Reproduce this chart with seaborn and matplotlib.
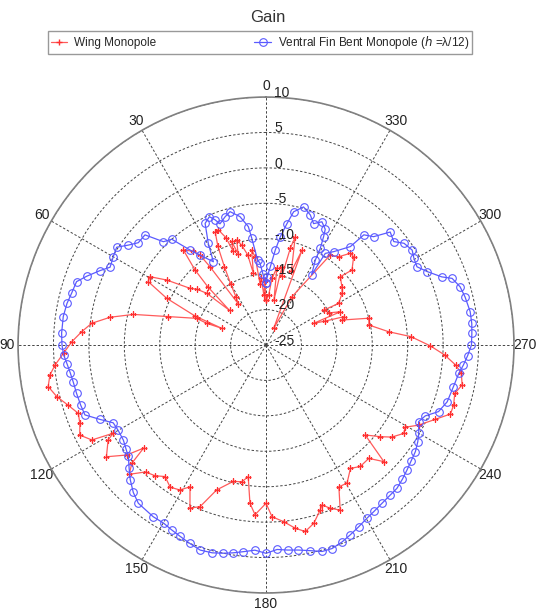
import numpy as np
import pandas as pd
import seaborn as sns
import matplotlib.pyplot as plt

# angle [deg] / gain [dB], in drawing order
wing_angle = [
    0, 1, 2.5, 4, 5.6, 7, 8.6, 10, 11.5, 13.7, 15.6, 17, 18.4, 19.3, 20.5, 22.5,
    24.2, 26, 28, 30, 32, 34, 35.6, 36.3, 38, 41, 43.4, 45, 46.5, 48.9, 51, 53.3,
    56.8, 59.5, 61.7, 64.8, 67.8, 69.3, 69.9, 69, 73.8, 77, 79.9, 82.9, 85.9, 89,
    92.3, 95.4, 97.9, 100.8, 103.9, 106.9, 110, 112.8, 115.8, 118.6, 120, 121, 125,
    128.3, 130.1, 131.4, 133.4, 136.5, 139.7, 142.5, 146, 149.3, 151.8, 155, 157.8,
    161.2, 166.5, 170, 172.3, 174.2, 176.3, 180, 182, 185.7, 189.1, 191.9, 195,
    198.2, 199.3, 201.5, 204.2, 207.2, 210.4, 214.4, 217.8, 222.2, 225.3, 227.8,
    231.3, 233.8, 237.3, 239.4, 242.3, 246.3, 249.5, 252.3, 255.6, 258.5, 261.8,
    264, 266.8, 269.7, 273.3, 276.2, 281, 284.6, 288.2, 290, 292, 294.5, 294.1,
    297, 301.2, 299.8, 304.2, 307.5, 312.6, 311.1, 315.2, 317.4, 320.5, 324.5,
    331.7, 335.3, 339.2, 341, 344.9, 345.9, 347, 348.5, 350, 352, 354.9, 357, 360,
]
wing_gain = [
    -18.6, -16.0, -18.0, -15.5, -16.3, -12.5, -11.45, -14.7, -12.0, -10.5, -9.6, -11.5,
    -9.6, -11.0, -8.8, -7.4, -7.5, -9.5, -12.5, -15.0, -17.0, -18.0, -11.4, -9.25, -8.2,
    -7.2, -10.4, -13.4, -17.9, -13.9, -12.5, -11.6, -8.25, -6.0, -6.1, -9.5, -14.2,
    -18.3, -16.1, -14.5, -10.6, -5.8, -2.65, -0.2, 1.1, 2.4, 3.6, 4.9, 5.8, 6.3, 5.4,
    4.2, 3.2, 3.5, 4.2, 3.0, -0.1, 1.0, 2.5, 0.05, -2.4, 0.26, 1.56, -0.3, -0.8, -1.6,
    -0.8, -1.2, -2.3, 0.4, -0.36, -3.4, -5.2, -5.4, -6.25, -2.55, -1.0, -2.66, -0.75,
    0.06, 1.2, 1.9, 1.05, -0.5, -1.08, -0.23, 0.54, -2.5, -2.4, -3.9, -3.3, -3.4, -1.6,
    -6.1, -4.3, -3.0, -1.9, -2.2, -0.67, 1.1, 2.8, 2.8, 2.5, 3.25, 2.85, 1.9, 0.26,
    -1.8, -4.5, -7.6, -10.2, -10.0, -13.7, -13.3, -16.0, -17.6, -13.5, -15.0, -15.5,
    -13.2, -12.0, -11.5, -10.75, -8.9, -7.45, -7.4, -8.85, -9.4, -17.25, -22.4, -10.7,
    -14.0, -9.2, -10.9, -15.0, -13.7, -18.5, -14.0, -15.55, -18.0, -18.6,
]

fin_angle = [
    0, 2.5, 4.2, 5.6, 7.6, 8.5, 11.5, 15.1, 17.7, 20.8, 22.2, 23.8, 26.6, 29.6, 32.3,
    36.3, 38.7, 41.7, 44.8, 47.7, 51.3, 54, 56.8, 60, 63.5, 65.9, 69, 71.5, 75.1, 78.2,
    82, 86.7, 90, 92.8, 95.5, 98.2, 101, 104.3, 108, 111.1, 114.1, 117, 120, 123.7,
    126.5, 129, 132, 134.8, 138, 141.1, 146.7, 150.1, 153, 155.8, 159, 162.2, 165.5,
    168.4, 171, 173.7, 176.9, 180, 183.1, 186, 189, 192.2, 195.2, 198, 201.1, 204, 207,
    210.2, 213, 216.2, 219.5, 222.4, 225.5, 228.4, 231.5, 234.5, 237.5, 240, 243.3, 246,
    248.9, 252.6, 257.5, 261.6, 264.2, 267, 270, 273.3, 276, 279.3, 283.6, 286.7, 289.7,
    291.2, 294.5, 297.4, 300.4, 303, 306.4, 309, 312.3, 315.2, 318.4, 319.4, 324, 327.1,
    327, 329.9, 330.7, 332, 332.9, 335.6, 338.6, 341.2, 344.8, 348.3, 350.2, 352.5,
    354.4, 356.8, 359, 360,
]
fin_gain = [
    -16.3, -15.0, -13.4, -13.0, -9.8, -8.1, -6.5, -5.5, -6.0, -6.7, -5.9, -5.2, -5.8,
    -8.5, -11.1, -9.25, -7.8, -5.0, -4.45, -1.9, -1.9, -1.0, 0.2, -0.1, -0.4, 0.7, 2.1,
    3.2, 3.4, 3.7, 3.9, 3.9, 3.8, 3.6, 3.2, 2.9, 2.7, 2.6, 2.5, 2.4, 0.7, -0.8, -0.9,
    -0.8, -0.4, 0.0, 1.0, 2.0, 3.0, 3.7, 4.0, 4.0, 4.3, 4.6, 5.0, 5.4, 5.3, 5.0, 4.7,
    4.35, 4.0, 4.4, 3.9, 4.1, 4.3, 4.7, 5.2, 5.2, 4.8, 4.3, 3.8, 3.3, 3.0, 2.7, 2.5, 2.4,
    2.0, 1.6, 1.2, 0.9, 0.4, -0.1, -0.9, -0.4, 1.1, 1.8, 2.1, 2.5, 3.0, 3.5, 4.0, 4.1,
    4.2, 4.2, 3.9, 3.6, 2.9, 1.6, 0.0, -1.0, -0.8, -0.4, -0.8, -1.8, -1.3, -3.45, -4.2,
    -6.7, -8.7, -9.6, -13.2, -11.1, -9.35, -7.7, -6.65, -5.9, -6.6, -5.6, -4.8, -5.8,
    -7.6, -9.6, -11.5, -13.9, -15.4, -16.3,
]

angle_ticks = list(range(0, 360, 30))
gain_ticks = [-25, -20, -15, -10, -5, 0, 5, 10]

wing = pd.DataFrame({"theta": np.deg2rad(wing_angle), "gain": wing_gain})
fin = pd.DataFrame({"theta": np.deg2rad(fin_angle), "gain": fin_gain})

sns.set_theme(style="white")
plt.rcParams["font.family"] = ["Liberation Sans", "DejaVu Sans"]

fig = plt.figure(figsize=(5.36, 6.10), dpi=100)
ax = fig.add_axes([0.0336, 0.0279, 0.9254, 0.813], projection="polar")
ax.set_theta_zero_location("N")
ax.set_theta_direction(1)

sns.lineplot(
    data=wing, x="theta", y="gain", ax=ax, sort=False, estimator=None,
    color="#ff5a5a", lw=0.9, marker="+", markersize=4.5,
    markeredgecolor="#ff3030", markeredgewidth=1.0, label="Wing Monopole",
)
sns.lineplot(
    data=fin, x="theta", y="gain", ax=ax, sort=False, estimator=None,
    color="#5a5aff", lw=0.9, marker="o", markersize=5.5, markerfacecolor="none",
    markeredgecolor="#5a5aff", markeredgewidth=0.8,
    label=r"Ventral Fin Bent Monopole ($\it{h}$ =λ/12)",
)
handles, labels = ax.get_legend_handles_labels()
ax.get_legend().remove()
ax.set_xlabel("")
ax.set_ylabel("")

ax.set_rlim(-25, 10)
ax.set_rticks(gain_ticks)
ax.set_yticklabels([])
ax.set_thetagrids(angle_ticks, [str(a) for a in angle_ticks], fontsize=10, color="#222222")
ax.tick_params(axis="x", pad=-5)
ax.grid(True, linestyle=(0, (2.5, 2)), color="#444444", linewidth=0.7)
ax.spines["polar"].set_color("#808080")
ax.spines["polar"].set_linewidth(1.2)

for g in gain_ticks:
    ax.annotate(str(g), xy=(0, g), xytext=(6, 3), textcoords="offset points",
                ha="left", va="center", fontsize=10, color="#222222")

fig.text(0.5, 1 - 18 / 610, "Gain", ha="center", va="center", fontsize=12, color="#333333")
leg = fig.legend(
    handles, labels, loc="center", ncol=2, mode="expand",
    bbox_to_anchor=(42 / 536, 1 - 52 / 610, 436 / 536, 19 / 610),
    fontsize=8.5, frameon=True, fancybox=False, borderpad=0.25,
    handlelength=1.4, handletextpad=0.6,
)
leg.get_frame().set_edgecolor("#808080")
leg.get_frame().set_linewidth(1.0)

fig.savefig("out.png", dpi=100)
